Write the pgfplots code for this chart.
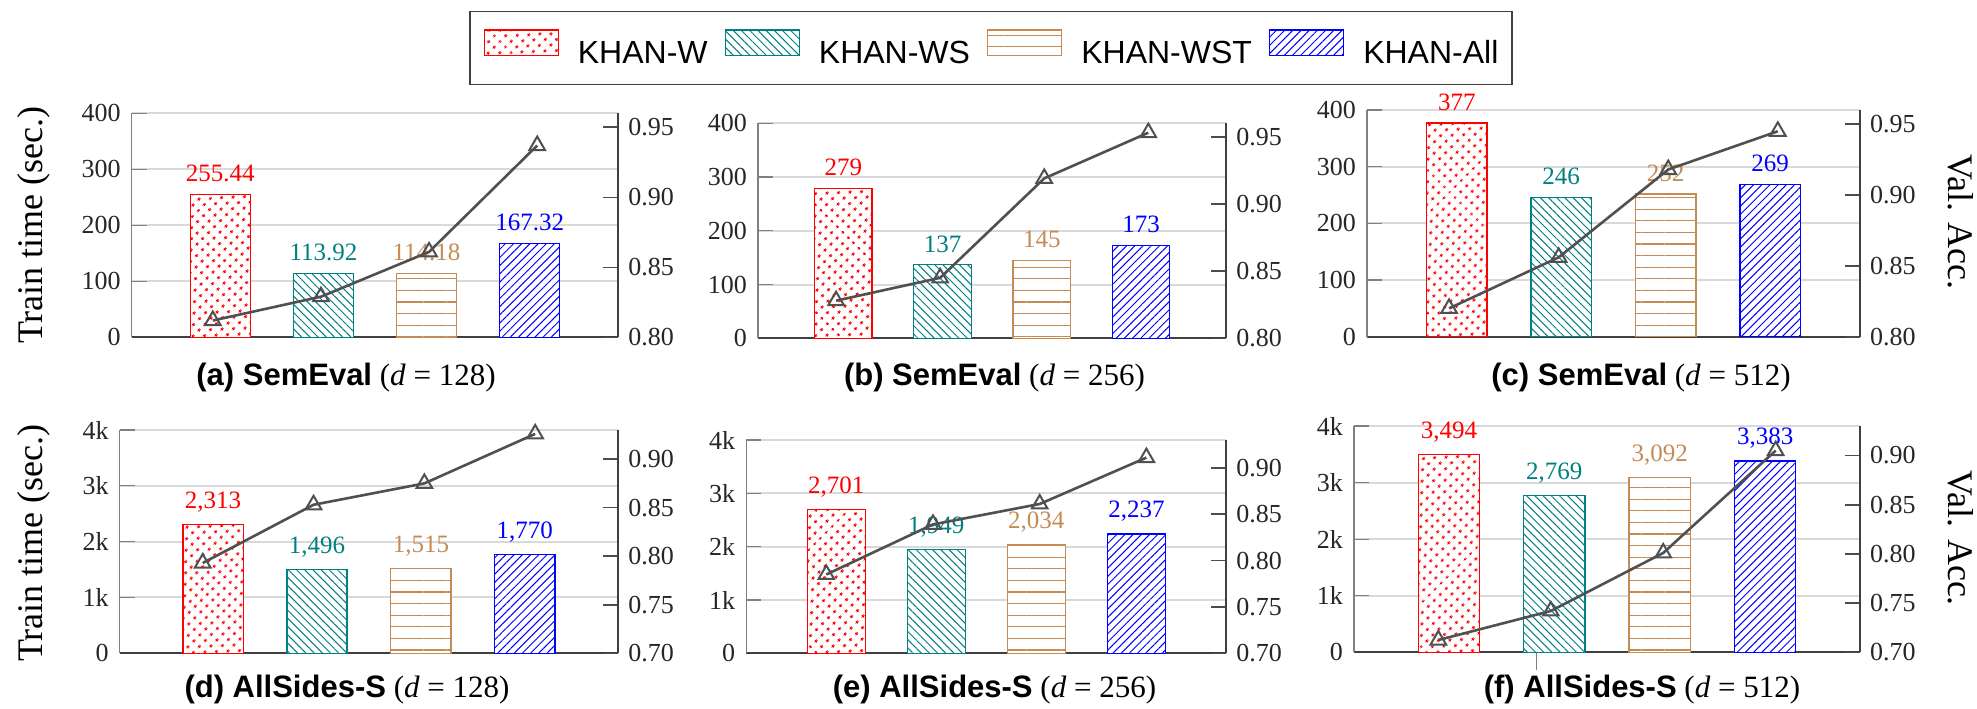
\documentclass[border=0pt]{standalone}
\usepackage{pgfplots}
\pgfplotsset{compat=1.18}
\usetikzlibrary{patterns.meta}
\usepackage{fontspec}
\setmainfont{Liberation Serif}
\setsansfont{Liberation Sans}
\newcommand{\fs}[1]{\fontsize{#1}{#1}\selectfont}
\definecolor{kred}{RGB}{255,0,0}
\definecolor{kteal}{RGB}{0,128,128}
\definecolor{kbrown}{RGB}{196,140,84}
\definecolor{kblue}{RGB}{0,0,255}
\definecolor{kline}{RGB}{80,80,80}

\pgfplotsset{
  legimg/.style={legend image code/.code={\draw[##1] (0pt,-1pt) rectangle (37pt,11.8pt);}},
  kbar/.style={ybar, bar width=0.58, bar shift=0pt, line width=0.65pt, fill=white},
  kW/.style={kbar, draw=kred, postaction={pattern={Dots[angle=45,distance=4pt,radius=0.8pt]}, pattern color=kred}, every node near coord/.append style={text=kred}, legimg},
  kWS/.style={kbar, draw=kteal, postaction={pattern={Lines[angle=-45,distance=2.9pt,line width=0.5pt]}, pattern color=kteal}, every node near coord/.append style={text=kteal}, legimg},
  kWST/.style={kbar, draw=kbrown, postaction={pattern={Lines[angle=0,distance=5.8pt,line width=0.55pt]}, pattern color=kbrown}, every node near coord/.append style={text=kbrown}, legimg},
  kAll/.style={kbar, draw=kblue, postaction={pattern={Lines[angle=45,distance=2.9pt,line width=0.5pt]}, pattern color=kblue}, every node near coord/.append style={text=kblue}, legimg},
  kln/.style={color=kline, line width=1.3pt, mark=triangle, mark size=4.5pt, mark options={solid, fill=white, line width=1pt, draw=kline}},
  baraxis/.style={scale only axis, ymin=0, axis lines*=left, xtick=\empty,
    tick align=inside, major tick length=7.5pt,
    ytick style={gray, line width=0.65pt},
    y axis line style={gray, line width=0.65pt},
    x axis line style={black!75, line width=1pt},
    ymajorgrids, major grid style={gray!30, line width=1pt},
    yticklabel style={font=\fs{13}, text=black!85, xshift=-2pt},
    nodes near coords, point meta=explicit symbolic,
    every node near coord/.append style={font=\fs{12.5}, yshift=2.5pt},
    clip=false},
  lineaxis/.style={scale only axis, axis x line=none, axis y line*=right,
    xmin=0.25, xmax=4.75, tick align=inside, major tick length=7.5pt,
    ytick style={black!70, line width=0.8pt},
    y axis line style={black!75, line width=1pt},
    yticklabel style={font=\fs{13}, text=black!85, xshift=1.5pt},
    clip=false},
  toprow/.style={ymax=400, ytick={0,100,200,300,400}, yticklabels={0,100,200,300,400}, xmin=0.14, xmax=4.86},
  botrow/.style={ymax=4000, ytick={0,1000,2000,3000,4000}, yticklabels={0,1k,2k,3k,4k}, xmin=0.1, xmax=4.9},
  toprt/.style={ymin=0.80, ymax=0.96, ytick={0.80,0.85,0.90,0.95}, yticklabels={0.80,0.85,0.90,0.95}},
  botrt/.style={ymin=0.70, ymax=0.93, ytick={0.70,0.75,0.80,0.85,0.90}, yticklabels={0.70,0.75,0.80,0.85,0.90}},
  cap/.style 2 args={every axis x label/.style={at={(axis description cs:#1,#2)}, anchor=center, font=\fs{15.5}}},
}

\begin{document}
\begin{tikzpicture}
\useasboundingbox (0,0) rectangle (988.5pt,354pt);

% ---------- (a)
\begin{axis}[baraxis, toprow, at={(65.85pt,185.35pt)}, anchor=south west, width=243.3pt, height=112pt,
  ylabel={Train time (sec.)},
  every axis y label/.style={at={(axis description cs:-0.2018,0.501)}, rotate=90, anchor=center, font=\fs{18}},
  xlabel={{\sffamily\bfseries (a) SemEval} (\textit{d} = 128)}, cap={0.4404}{-0.1817}]
\addplot[kW] coordinates {(1,255.44) [255.44]};
\addplot[kWS] coordinates {(2,113.92) [113.92]};
\addplot[kWST] coordinates {(3,114.18) [114.18]};
\addplot[kAll] coordinates {(4,167.32) [167.32]};
\end{axis}
\begin{axis}[lineaxis, toprt, at={(65.85pt,185.35pt)}, anchor=south west, width=243.3pt, height=112pt]
\addplot[kln] coordinates {(1,0.812) (2,0.829) (3,0.861) (4,0.937)};
\end{axis}

% ---------- (b)
\begin{axis}[baraxis, toprow, at={(379pt,184.85pt)}, anchor=south west, width=234.2pt, height=107.5pt,
  xlabel={{\sffamily\bfseries (b) SemEval} (\textit{d} = 256)}, cap={0.5049}{-0.1847},
  legend columns=4,
  legend style={at={(axis description cs:0.4974,1.5237)}, anchor=north, draw=black!75, line width=0.7pt,
    inner xsep=6.8pt, inner ysep=9pt, font=\sffamily\fs{16}, nodes={inner sep=0pt},
    /tikz/every odd column/.append style={column sep=9.5pt},
    /tikz/every even column/.append style={column sep=8.5pt}}]
\addplot[kW] coordinates {(1,279) [279]};
\addlegendentry{KHAN-W}
\addplot[kWS] coordinates {(2,137) [137]};
\addlegendentry{KHAN-WS}
\addplot[kWST] coordinates {(3,145) [145]};
\addlegendentry{KHAN-WST}
\addplot[kAll] coordinates {(4,173) [173]};
\addlegendentry{KHAN-All}
\end{axis}
\begin{axis}[lineaxis, toprt, at={(379pt,184.85pt)}, anchor=south west, width=234.2pt, height=107.5pt]
\addplot[kln] coordinates {(1,0.828) (2,0.845) (3,0.919) (4,0.953)};
\end{axis}

% ---------- (c)
\begin{axis}[baraxis, toprow, at={(683.45pt,185.65pt)}, anchor=south west, width=246.55pt, height=113.35pt,
  xlabel={{\sffamily\bfseries (c) SemEval} (\textit{d} = 512)}, cap={0.5559}{-0.1822}]
\addplot[kW] coordinates {(1,377) [377]};
\addplot[kWS] coordinates {(2,246) [246]};
\addplot[kWST] coordinates {(3,252) [252]};
\addplot[kAll] coordinates {(4,269) [269]};
\end{axis}
\begin{axis}[lineaxis, toprt, at={(683.45pt,185.65pt)}, anchor=south west, width=246.55pt, height=113.35pt,
  ylabel={Val. Acc.},
  every axis y label/.style={at={(axis description cs:1.2048,0.506)}, rotate=-90, anchor=center, font=\fs{18}}]
\addplot[kln] coordinates {(1,0.820) (2,0.856) (3,0.918) (4,0.945)};
\end{axis}

% ---------- (d)
\begin{axis}[baraxis, botrow, at={(59.8pt,27.35pt)}, anchor=south west, width=249.35pt, height=111.65pt,
  ylabel={Train time (sec.)},
  every axis y label/.style={at={(axis description cs:-0.1727,0.494)}, rotate=90, anchor=center, font=\fs{18}},
  xlabel={{\sffamily\bfseries (d) AllSides-S} (\textit{d} = 128)}, cap={0.456}{-0.1644}]
\addplot[kW] coordinates {(1,2313) [2{,}313]};
\addplot[kWS] coordinates {(2,1496) [1{,}496]};
\addplot[kWST] coordinates {(3,1515) [1{,}515]};
\addplot[kAll] coordinates {(4,1770) [1{,}770]};
\end{axis}
\begin{axis}[lineaxis, botrt, at={(59.8pt,27.35pt)}, anchor=south west, width=249.35pt, height=111.65pt]
\addplot[kln] coordinates {(1,0.793) (2,0.853) (3,0.875) (4,0.926)};
\end{axis}

% ---------- (e)
\begin{axis}[baraxis, botrow, at={(373.15pt,27.35pt)}, anchor=south west, width=240.05pt, height=106.65pt,
  xlabel={{\sffamily\bfseries (e) AllSides-S} (\textit{d} = 256)}, cap={0.517}{-0.172}]
\addplot[kW] coordinates {(1,2701) [2{,}701]};
\addplot[kWS] coordinates {(2,1949) [1{,}949]};
\addplot[kWST] coordinates {(3,2034) [2{,}034]};
\addplot[kAll] coordinates {(4,2237) [2{,}237]};
\end{axis}
\begin{axis}[lineaxis, botrt, at={(373.15pt,27.35pt)}, anchor=south west, width=240.05pt, height=106.65pt]
\addplot[kln] coordinates {(1,0.785) (2,0.839) (3,0.861) (4,0.911)};
\end{axis}

% ---------- (f)
\begin{axis}[baraxis, botrow, at={(677pt,27.85pt)}, anchor=south west, width=253pt, height=113.15pt,
  extra x ticks={1.83}, extra x tick labels={},
  extra x tick style={tick align=outside, major tick length=9pt, tick style={gray, line width=0.65pt}},
  xlabel={{\sffamily\bfseries (f) AllSides-S} (\textit{d} = 512)}, cap={0.5692}{-0.1666}]
\addplot[kW] coordinates {(1,3494) [3{,}494]};
\addplot[kWS] coordinates {(2,2769) [2{,}769]};
\addplot[kWST] coordinates {(3,3092) [3{,}092]};
\addplot[kAll] coordinates {(4,3383) [3{,}383]};
\end{axis}
\begin{axis}[lineaxis, botrt, at={(677pt,27.85pt)}, anchor=south west, width=253pt, height=113.15pt,
  ylabel={Val. Acc.},
  every axis y label/.style={at={(axis description cs:1.1996,0.505)}, rotate=-90, anchor=center, font=\fs{18}}]
\addplot[kln] coordinates {(1,0.7125) (2,0.742) (3,0.801) (4,0.905)};
\end{axis}
\end{tikzpicture}
\end{document}
